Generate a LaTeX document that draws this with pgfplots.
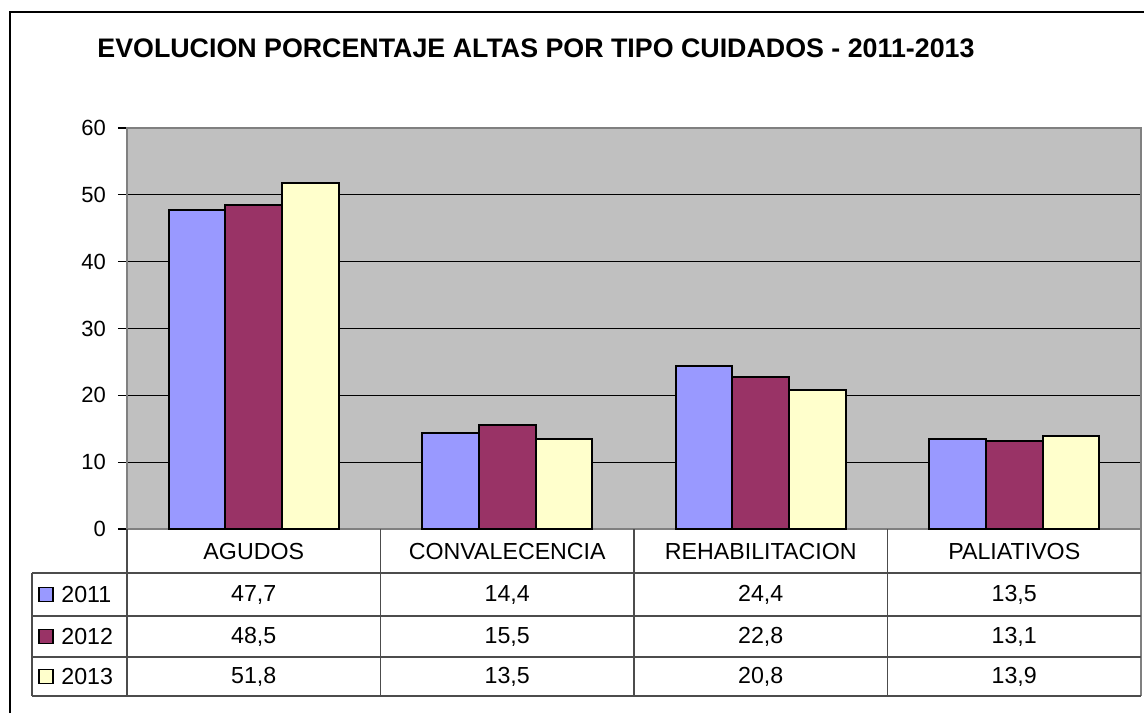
\documentclass[border=0pt]{standalone}
\usepackage{fontspec}
\setmainfont{Liberation Sans}
\usepackage{pgfplots}
\usepackage{pgfplotstable}
\pgfplotsset{compat=1.18}

\definecolor{c2011}{HTML}{9999FF}
\definecolor{c2012}{HTML}{993366}
\definecolor{c2013}{HTML}{FFFFCC}
\definecolor{plotbg}{HTML}{C0C0C0}
\definecolor{plotedge}{HTML}{808080}

% categories: 0 AGUDOS, 1 CONVALECENCIA, 2 REHABILITACION, 3 PALIATIVOS
\pgfplotstableread{
cat y2011 y2012 y2013
0   47.7  48.5  51.8
1   14.4  15.5  13.5
2   24.4  22.8  20.8
3   13.5  13.1  13.9
}\data

\begin{document}
\begin{tikzpicture}
\begin{axis}[
  at={(63.5pt,-264.5pt)}, anchor=south west,
  scale only axis,
  width=507pt, height=200.5pt,
  xmin=-0.5, xmax=3.5,
  ymin=0, ymax=60,
  ytick={0,10,...,60},
  xtick=\empty,
  ytick pos=left,
  tick align=outside,
  major tick length=4.5pt,
  y tick style={black, line width=0.6pt},
  yticklabel style={font=\fontsize{11}{13}\selectfont, xshift=-2.5pt},
  /pgf/number format/assume math mode=true,
  axis background/.style={fill=plotbg},
  axis line style={draw=plotedge, line width=1pt},
  ymajorgrids,
  grid style={black, line width=0.6pt},
  ybar,
  bar width=0.223,
]
\addplot[fill=c2011, draw=black, line width=1pt, bar shift=-0.223] table[x=cat, y=y2011] {\data};
\addplot[fill=c2012, draw=black, line width=1pt, bar shift=0] table[x=cat, y=y2012] {\data};
\addplot[fill=c2013, draw=black, line width=1pt, bar shift=0.223] table[x=cat, y=y2013] {\data};
\end{axis}

\begin{scope}[x=0.5pt, y=-0.5pt]
\useasboundingbox (0,0) rectangle (1144,713);
% outer chart frame
\draw[line width=1.2pt] (10,713) -- (10,12) -- (1144,12);
% title
\node[anchor=west, inner sep=0pt, font=\bfseries\fontsize{13.4}{16}\selectfont]
  at (97,48.5) {EVOLUCION PORCENTAJE ALTAS POR TIPO CUIDADOS - 2011-2013};

% data table grid
\begin{scope}[draw=black!70, line width=0.7pt]
  \foreach \xx in {127,380.5,634,887.5} \draw (\xx,529) -- (\xx,696);
  \draw[draw=plotedge] (1141,529) -- (1141,696);
  \draw (32,573) -- (32,696);
  \foreach \yy in {573,616,657} \draw (32,\yy) -- (1141,\yy);
  \draw (32,696) -- (1141,696);
\end{scope}

% category header
\foreach \lab [count=\i from 0] in {AGUDOS,CONVALECENCIA,REHABILITACION,PALIATIVOS}
  \node[font=\fontsize{11.6}{13}\selectfont] at ({253.75+253.5*\i},551) {\lab};

% legend keys and values
\foreach \c/\yr/\yy in {y2011/2011/594.5, y2012/2012/636.5, y2013/2013/676.5} {
  \draw[fill=c\yr, draw=black, line width=0.6pt] (39,\yy-7) rectangle (53,\yy+7);
  \node[anchor=west, inner sep=0pt, font=\fontsize{11.6}{13}\selectfont] at (61,\yy) {\yr};
  \foreach \r in {0,...,3} {
    \pgfplotstablegetelem{\r}{\c}\of\data
    \node[font=\fontsize{11.6}{13}\selectfont] at ({253.75+253.5*\r},\yy)
      {\pgfmathprintnumber[fixed, fixed zerofill, precision=1, use comma, assume math mode=true]{\pgfplotsretval}};
  }
}
\end{scope}
\end{tikzpicture}
\end{document}
